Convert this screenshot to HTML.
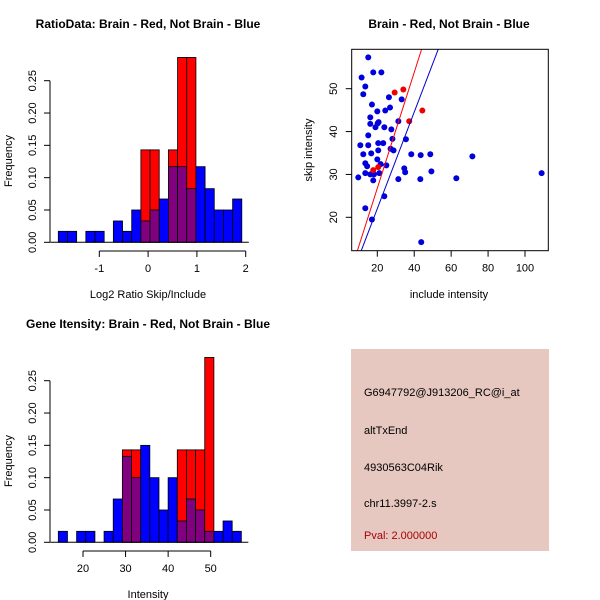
<!DOCTYPE html>
<html><head><meta charset="utf-8"><style>
body{margin:0;background:#fff;}
svg{display:block;font-family:"Liberation Sans",Arial,sans-serif;}
</style></head><body>
<svg id="c" width="600" height="600" viewBox="0 0 600 600"></svg>
<script>
// ---- data: ratio histogram ----
const ratioStart = -1.84, ratioWidth = 0.188;
const ratioBlue = [0.017,0.017,0,0.017,0.017,0,0.033,0.017,0.05,0.033,0.05,0.067,0.117,0.117,0.083,0.117,0.083,0.05,0.05,0.067];
const ratioRed  = [0,0,0,0,0,0,0,0,0,0.143,0.143,0,0.143,0.286,0.286,0,0,0,0,0];
const ratioXTicks = [-1,0,1,2];
const freqTicks = ["0.00","0.05","0.10","0.15","0.20","0.25"];
// ---- data: intensity histogram ----
const intStart = 14.2, intWidth = 2.15;
const intBlue = [0.017,0,0.017,0.017,0,0.017,0.067,0.133,0.1,0.15,0.1,0.05,0.1,0.033,0.067,0.05,0.017,0.017,0.033,0.017];
const intRed  = [0,0,0,0,0,0,0,0.143,0.143,0,0,0,0,0.143,0.143,0.143,0.286,0,0,0];
const intXTicks = [20,30,40,50];
// ---- data: scatter ----
const blueX = [15.1,11.5,13.5,12.4,17.8,22.2,17.1,26.3,33.2,26.9,24.3,20,16.2,20.7,20.2,16.2,19,23.8,27.6,15.1,28.2,35.5,20.5,23.2,10.8,15.1,27.2,28.8,20.5,16.7,12.4,38.4,43.5,48.7,20,71.5,13.5,21.8,24.9,14.5,34.6,35.1,13.5,16.2,18.2,21.1,9.7,49.3,17.8,31.4,43.3,62.8,109,23.8,13.5,17.1,43.8,31.4];
const blueY = [57.3,52.6,50.5,48.7,53.8,53.8,46.3,48.0,47.5,45.6,44.9,44.7,43.3,42.2,41.9,41.8,41,41,40.5,39.1,38.3,38.2,37.3,37.3,36.8,36.8,36.0,35.6,35.6,34.9,34.7,34.7,34.5,34.7,33.5,34.2,32.6,32.4,32.1,31.9,31.4,30.5,30.3,30.0,30.0,30.3,29.3,30.7,28.6,28.9,28.9,29.1,30.3,24.9,22.1,19.5,14.2,42.4];
const redX = [29.4,34.1,44.4,37.3,17.8,20.5];
const redY = [49.1,49.8,44.9,42.4,31.0,31.7];
// lines: [x1,y1,x2,y2] endpoints in data units
const redLine = [9.2,12.2,44,59.2];
const blueLine = [11.3,12.2,53,59.2];
const scXTicks = [20,40,60,80,100];
const scYTicks = [20,30,40,50];

const svg = document.getElementById('c');
const NS='http://www.w3.org/2000/svg';
function el(tag, attrs, parent){const e=document.createElementNS(NS,tag);for(const k in attrs)e.setAttribute(k,attrs[k]);(parent||svg).appendChild(e);return e;}
function txt(s,x,y,attrs,parent){const t=el('text',Object.assign({x:x,y:y,'font-size':11,fill:'#000'},attrs),parent);t.textContent=s;return t;}

function histogram(name, oy, start, width, blue, red, xTicks, xmin, xmax, xAxisMin, xAxisMax, title, xlabel){
  const g=el('g',{});
  
  
  const y0=oy+242.3, perUnit=(242.3-80.7)/0.25;
  const X=v=>xmin+(v-xAxisMin)*(xmax-xmin)/(xAxisMax-xAxisMin);
  const Y=v=>y0-v*perUnit;
  for(let i=0;i<blue.length;i++){
    const a=X(start+i*width), b=X(start+(i+1)*width);
    if(red[i]>0){const r=el('rect',{x:a,y:Y(red[i]),width:b-a,height:y0-Y(red[i]),fill:'#ff0000',stroke:'#000','stroke-width':0.8},g);
      
      }
    if(blue[i]>0){const col=red[i]>0?'#800080':'#0000ff';
      const r=el('rect',{x:a,y:Y(blue[i]),width:b-a,height:y0-Y(blue[i]),fill:col,stroke:'#000','stroke-width':0.8},g);
      
      }
  }
  // baseline
  el('line',{x1:X(start)-8,x2:X(start+blue.length*width)+7,y1:y0,y2:y0,stroke:'#000'},g);
  // y axis
  const ya=el('g',{},g);
  
  
  el('line',{x1:50,x2:50,y1:Y(0),y2:Y(0.25),stroke:'#000'},ya);
  freqTicks.forEach(s=>{const v=parseFloat(s);el('line',{x1:44,x2:50,y1:Y(v),y2:Y(v),stroke:'#000'},ya);
    txt(s,36,Y(v),{'text-anchor':'middle',transform:`rotate(-90 36 ${Y(v)})`},ya);});
  const yl=txt('Frequency',12,oy+161,{'text-anchor':'middle',transform:`rotate(-90 12 ${oy+161})`,'font-size':11},g);
  
  
  // x axis
  const xa=el('g',{},g);
  
  
  const ax=oy+251;
  el('line',{x1:X(xTicks[0]),x2:X(xTicks[xTicks.length-1]),y1:ax,y2:ax,stroke:'#000'},xa);
  xTicks.forEach(v=>{el('line',{x1:X(v),x2:X(v),y1:ax,y2:ax+6,stroke:'#000'},xa);
    txt(String(v).replace('-','-'),X(v),ax+21,{'text-anchor':'middle'},xa);});
  const xl=txt(xlabel,X((xAxisMin+xAxisMax)/2)*0+148,oy+298,{'text-anchor':'middle'},g);
  
  
  const tt=txt(title,148,oy+28,{'text-anchor':'middle','font-weight':'bold','font-size':12},g);
  
  
}
histogram('ratio-histogram',0,ratioStart,ratioWidth,ratioBlue,ratioRed,ratioXTicks,99.3,245.7,-1,2,'RatioData: Brain - Red, Not Brain - Blue','Log2 Ratio Skip/Include');
histogram('intensity-histogram',300,intStart,intWidth,intBlue,intRed,intXTicks,83,210.7,20,50,'Gene Itensity: Brain - Red, Not Brain - Blue','Intensity');

// ---- scatter ----
(function(){
  const g=el('g',{});
  
  
  const X=v=>377.3+(v-20)*(525-377.3)/80;
  const Y=v=>88.7-(v-50)*(217.3-88.7)/30*-1*-1;
  const Yf=v=>88.7+(50-v)*(217.3-88.7)/30;
  const L=351.7,R=548.3,T=49.3,B=250.7;
  const cp=el('clipPath',{id:'sc'},g);el('rect',{x:L,y:T,width:R-L,height:B-T},cp);
  const pts=el('g',{'clip-path':'url(#sc)'},g);
  for(let i=0;i<blueX.length;i++){const c=el('circle',{cx:X(blueX[i]),cy:Yf(blueY[i]),r:3,fill:'#0000dd'},pts);
    
    }
  for(let i=0;i<redX.length;i++){const c=el('circle',{cx:X(redX[i]),cy:Yf(redY[i]),r:3,fill:'#ee0000'},pts);
    
    }
  const rl=el('line',{x1:X(redLine[0]),y1:Yf(redLine[1]),x2:X(redLine[2]),y2:Yf(redLine[3]),stroke:'#ff0000'},pts);
  
  
  const bl=el('line',{x1:X(blueLine[0]),y1:Yf(blueLine[1]),x2:X(blueLine[2]),y2:Yf(blueLine[3]),stroke:'#0000cc'},pts);
  
  
  el('rect',{x:L,y:T,width:R-L,height:B-T,fill:'none',stroke:'#000'},g);
  scXTicks.forEach(v=>{el('line',{x1:X(v),x2:X(v),y1:B,y2:B+6,stroke:'#000'},g);txt(String(v),X(v),B+21,{'text-anchor':'middle'},g);});
  scYTicks.forEach(v=>{el('line',{x1:L-6,x2:L,y1:Yf(v),y2:Yf(v),stroke:'#000'},g);txt(String(v),337,Yf(v),{'text-anchor':'middle',transform:`rotate(-90 337 ${Yf(v)})`},g);});
  const xl=txt('include intensity',449,298,{'text-anchor':'middle'},g);
  
  
  const yl=txt('skip intensity',312,150,{'text-anchor':'middle',transform:'rotate(-90 312 150)'},g);
  
  
  const tt=txt('Brain - Red, Not Brain - Blue',449,28,{'text-anchor':'middle','font-weight':'bold','font-size':12},g);
  
  
})();

// ---- info box ----
(function(){
  const g=el('g',{});
  
  
  el('rect',{x:351,y:349,width:198,height:202,fill:'#e6c8c0'},g);
  const lines=[['G6947792@J913206_RC@i_at',396,'#000'],['altTxEnd',434,'#000'],['4930563C04Rik',471,'#000'],['chr11.3997-2.s',507,'#000'],['Pval: 2.000000',539,'#aa0000']];
  lines.forEach(l=>{const t=txt(l[0],364,l[1],{fill:l[2],'font-size':11},g);
    
    });
})();
</script>
</body></html>
